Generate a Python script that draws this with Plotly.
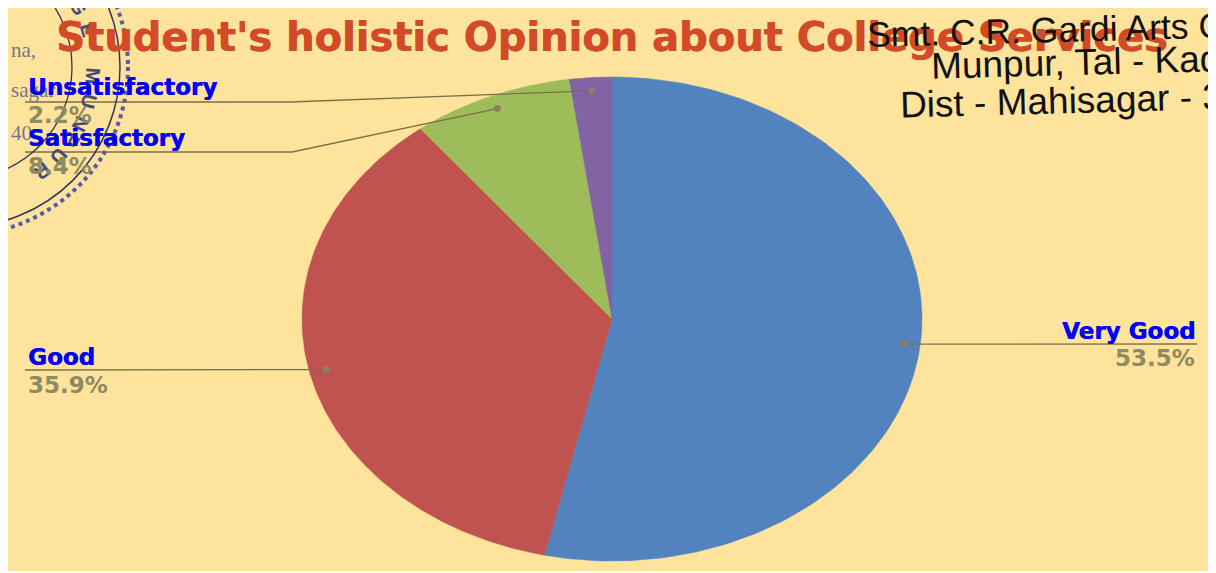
import numpy as np
import plotly.graph_objects as go

PAGE_W, PAGE_H = 1216, 573
OFF = 8                      # the page body insets the figure by this many pixels
W, H = PAGE_W - OFF, PAGE_H - OFF
categories = ["Very Good", "Good", "Satisfactory", "Unsatisfactory"]
values = [53.5, 35.9, 8.4, 2.2]
colors = ["#5383BE", "#C0534F", "#9FBC5B", "#8264A4"]
value_labels = ["53.5%", "35.9%", "8.4%", "2.2%"]
title_text = "Student's holistic Opinion about College Services"

CX, CY, RX, RY = 612, 319, 310, 242
BOTTOM = 571
xr = [(OFF - CX) / RX, (PAGE_W - CX) / RX]
yr = [(CY - BOTTOM) / RY, (CY - OFF) / RY]
px = lambda x: (x - CX) / RX
py = lambda y: (CY - y) / RY
pax = lambda x: (x - OFF) / W
pay = lambda y: 1 - (y - OFF) / H

fig = go.Figure()
edges = np.concatenate([[0], np.cumsum(values)]) / sum(values) * 2 * np.pi
for i, c in enumerate(categories):
    t = np.linspace(edges[i], edges[i + 1], 160)
    fig.add_trace(go.Scatter(
        x=np.r_[0, np.sin(t), 0], y=np.r_[0, np.cos(t), 0], mode="lines",
        fill="toself", fillcolor=colors[i], line=dict(color=colors[i], width=0.5),
        name=c, text=f"{c}: {value_labels[i]}", hoverinfo="text"))

mids = (edges[:-1] + edges[1:]) / 2
bends = {"Very Good": [(1197, 344)], "Good": [(25, 370)],
         "Satisfactory": [(292, 152), (25, 152)], "Unsatisfactory": [(290, 102), (25, 102)]}
for i, c in enumerate(categories):
    x0, y0 = 0.945 * np.sin(mids[i]), 0.945 * np.cos(mids[i])
    xs = [x0] + [px(p[0]) for p in bends[c]]
    ys = [y0] + [py(p[1]) for p in bends[c]]
    fig.add_trace(go.Scatter(x=xs, y=ys, mode="lines", line=dict(color="#7A7048", width=1.3), hoverinfo="skip"))
    fig.add_trace(go.Scatter(x=[x0], y=[y0], mode="markers", marker=dict(color="#8C8060", size=7), hoverinfo="skip"))

ann = []
def text(x, y, s, size, color, anchor="left", family="DejaVu Sans", weight=700, angle=0, **font):
    ann.append(dict(xref="paper", yref="paper", x=pax(x), y=pay(y), text=s, showarrow=False,
                    xanchor=anchor, yanchor="middle", textangle=angle,
                    font=dict(family=family, size=size, color=color, weight=weight, **font)))

# round college stamp
SX, SY = -40, 67
shapes = []
def circ(r, color, width, dash="solid"):
    shapes.append(dict(type="circle", xref="paper", yref="paper", x0=pax(SX - r), x1=pax(SX + r),
                       y0=pay(SY + r), y1=pay(SY - r), line=dict(color=color, width=width, dash=dash)))
circ(168, "#5A5AA8", 4, "dot")
circ(160, "#34345F", 1.5)
circ(112, "#34345F", 1.3)
for s, a in [("G", -27), ("E", -16), ("M", 4), ("U", 15), ("N", 25), ("P", 33), ("U", 42), ("R", 52)]:
    r = np.deg2rad(a)
    text(SX + 133 * np.cos(r), SY + 133 * np.sin(r), s, 20, "#4A4A78", "center", "Liberation Sans", 700, a + 90)
text(9, 50, "na,", 21, "#77778A", family="Liberation Serif", weight=400)
text(9, 90, "sagar", 21, "#77778A", family="Liberation Serif", weight=400)
text(9, 133, "40", 21, "#77778A", family="Liberation Serif", weight=400)

text(612, 37, title_text, 40, "#D24A27", "center", shadow="0.7px 0 0 #D24A27")
pos = {"Very Good": (1197, 331, 358, "right"), "Good": (26, 357, 385, "left"),
       "Satisfactory": (26, 138, 166, "left"), "Unsatisfactory": (26, 87, 115, "left")}
for i, c in enumerate(categories):
    x, y1, y2, an = pos[c]
    text(x, y1, c, 23, "#0000F5", an, shadow="0.5px 0 0 #0000F5")
    text(x, y2, value_labels[i], 23, "#8E8A62", an)

# rubber-stamped address, running off the right edge of the sheet
text(865, 29, "Smt. C.R. Gardi Arts College,", 35.5, "#111111", family="Liberation Sans", weight=400, angle=-1.5)
text(928, 62, "Munpur, Tal - Kadana,", 37, "#111111", family="Liberation Sans", weight=400, angle=-1.5)
text(897, 100, "Dist - Mahisagar - 389230", 37, "#111111", family="Liberation Sans", weight=400, angle=-1.5)

fig.update_layout(
    width=W, height=H, margin=dict(l=0, r=0, t=0, b=0), showlegend=False,
    paper_bgcolor="#FFFFFF", plot_bgcolor="#FDE39B",
    xaxis=dict(range=xr, visible=False, domain=[0, 1], fixedrange=True),
    yaxis=dict(range=yr, visible=False, domain=[(PAGE_H - BOTTOM) / H, 1], fixedrange=True),
    annotations=ann, shapes=shapes)
fig.write_html("out.html")
